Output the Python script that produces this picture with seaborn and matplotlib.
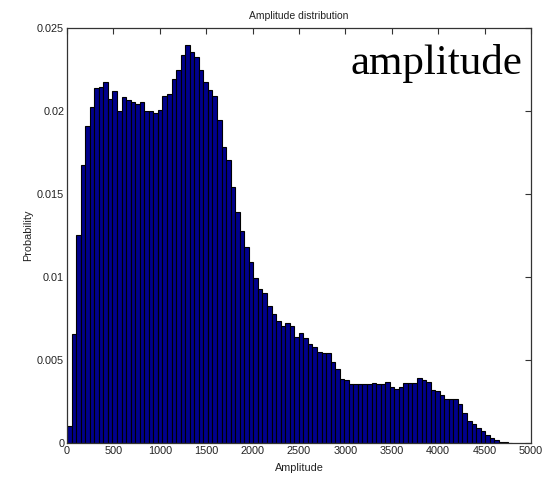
import numpy as np
import pandas as pd
import matplotlib
matplotlib.use("Agg")
import matplotlib.pyplot as plt
import seaborn as sns

# Bar heights (probability per bin), read left to right
probability = [
    0.00104, 0.00656, 0.01254, 0.01674, 0.01906, 0.02024, 0.02138, 0.02144,
    0.02170, 0.02068, 0.02116, 0.02000, 0.02082, 0.02064, 0.02054, 0.02040,
    0.02054, 0.02000, 0.02000, 0.01988, 0.02006, 0.02086, 0.02098, 0.02188,
    0.02244, 0.02332, 0.02392, 0.02350, 0.02320, 0.02244, 0.02170, 0.02124,
    0.02086, 0.01944, 0.01780, 0.01704, 0.01540, 0.01390, 0.01278, 0.01180,
    0.01090, 0.00994, 0.00930, 0.00904, 0.00824, 0.00776, 0.00736, 0.00706,
    0.00724, 0.00706, 0.00640, 0.00664, 0.00634, 0.00600, 0.00580, 0.00550,
    0.00544, 0.00540, 0.00490, 0.00444, 0.00388, 0.00380, 0.00356, 0.00356,
    0.00358, 0.00354, 0.00358, 0.00364, 0.00358, 0.00354, 0.00368, 0.00338,
    0.00328, 0.00340, 0.00364, 0.00364, 0.00364, 0.00392, 0.00380, 0.00368,
    0.00320, 0.00316, 0.00290, 0.00264, 0.00264, 0.00264, 0.00234, 0.00184,
    0.00136, 0.00116, 0.00090, 0.00074, 0.00048, 0.00034, 0.00020, 0.00008,
    0.00005, 0.00003,
]
amplitude_min = 0
amplitude_max = 4800

x_ticks = [0, 500, 1000, 1500, 2000, 2500, 3000, 3500, 4000, 4500, 5000]
y_ticks = [0, 0.005, 0.01, 0.015, 0.02, 0.025]
y_tick_labels = ["0", "0.005", "0.01", "0.015", "0.02", "0.025"]

title = "Amplitude distribution"
x_label = "Amplitude"
y_label = "Probability"
annotation = "amplitude"

n_bins = len(probability)
edges = np.linspace(amplitude_min, amplitude_max, n_bins + 1)
centers = (edges[:-1] + edges[1:]) / 2
df = pd.DataFrame({"Amplitude": centers, "Probability": probability})

sns.set_theme(style="white")
plt.rcParams["font.family"] = ["Liberation Sans", "DejaVu Sans"]

fig = plt.figure(figsize=(5.51, 4.80), dpi=100)
ax = fig.add_axes([67 / 551, 1 - 443.3 / 480, (531 - 67) / 551, (443.3 - 27.5) / 480])

sns.histplot(data=df, x="Amplitude", weights="Probability", bins=n_bins,
             binrange=(amplitude_min, amplitude_max),
             stat="count", color="#00008C", edgecolor="black", linewidth=0.8,
             alpha=1.0, ax=ax)

ax.set_xlim(0, 5000)
ax.set_ylim(0, 0.025)
ax.set_xticks(x_ticks)
ax.set_xticklabels([str(t) for t in x_ticks])
ax.set_yticks(y_ticks)
ax.set_yticklabels(y_tick_labels)
ax.tick_params(direction="in", length=4, width=0.8, top=True, right=True,
               labelsize=7.8, pad=2, colors="black")
ax.tick_params(axis="both", colors="#333333", labelcolor="#222222")
for s in ax.spines.values():
    s.set_visible(True)
    s.set_color("#333333")
    s.set_linewidth(0.9)

ax.set_title(title, fontsize=7.5, pad=6, color="#222222")
ax.set_xlabel(x_label, fontsize=7.8, labelpad=5, color="#222222")
ax.set_ylabel(y_label, fontsize=7.8, labelpad=3, color="#222222")

ax.text(0.9806, 0.887, annotation, transform=ax.transAxes, ha="right",
        va="baseline", fontsize=31, family=["Liberation Serif", "DejaVu Serif"],
        color="black")

fig.savefig("out.png", dpi=100, facecolor="white")
